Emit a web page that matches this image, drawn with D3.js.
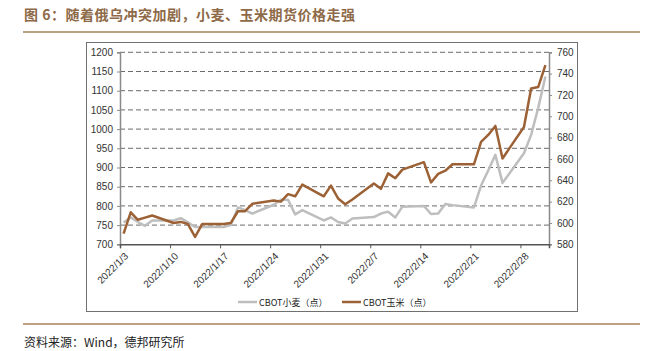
<!DOCTYPE html>
<html>
<head>
<meta charset="utf-8">
<script src="https://cdn.jsdelivr.net/npm/d3@7"></script>
<style>
  html, body { margin: 0; padding: 0; background: #fff; }
  svg text { font-family: "Liberation Sans", Arial, sans-serif; }
  .cjk { font-family: "Noto Sans CJK SC", sans-serif; }
</style>
</head>
<body>
<div id="chart"></div>
<script>
// trading days (holidays carry previous value)
const dates = [
    '2022-01-03', '2022-01-04', '2022-01-05', '2022-01-06', '2022-01-07',
    '2022-01-10', '2022-01-11', '2022-01-12', '2022-01-13', '2022-01-14',
    '2022-01-17', '2022-01-18', '2022-01-19', '2022-01-20', '2022-01-21',
    '2022-01-24', '2022-01-25', '2022-01-26', '2022-01-27', '2022-01-28',
    '2022-01-31', '2022-02-01', '2022-02-02', '2022-02-03', '2022-02-04',
    '2022-02-07', '2022-02-08', '2022-02-09', '2022-02-10', '2022-02-11',
    '2022-02-14', '2022-02-15', '2022-02-16', '2022-02-17', '2022-02-18',
    '2022-02-21', '2022-02-22', '2022-02-23', '2022-02-24', '2022-02-25',
    '2022-02-28', '2022-03-01', '2022-03-02', '2022-03-03'
];

// CBOT wheat, left axis
const wheat = [
    757, 770, 758, 748, 762,
    762, 768, 757, 745, 745,
    745, 750, 796, 789, 780,
    803, 816, 816, 778, 789,
    762, 770, 758, 754, 767,
    771, 780, 785, 770, 798,
    800, 779, 780, 805, 802,
    796, 853, 892, 933, 860,
    937, 985, 1056, 1137
];

// CBOT corn, right axis
const corn = [
    590, 610, 603, 605, 607,
    600, 601, 599, 587, 599,
    599, 600, 611, 611, 618,
    621, 620, 627, 625, 636,
    625, 635, 623, 617.5, 622,
    637, 632, 646.5, 642, 650,
    657, 638, 646, 649, 655,
    655, 676, 682.5, 691, 660.5,
    690, 726, 727.5, 748
];

const leftTicks = [700, 750, 800, 850, 900, 950, 1000, 1050, 1100, 1150, 1200];
const rightTicks = [580, 600, 620, 640, 660, 680, 700, 720, 740, 760];
const xTickDates = ['2022-01-03', '2022-01-10', '2022-01-17', '2022-01-24', '2022-01-31',
    '2022-02-07', '2022-02-14', '2022-02-21', '2022-02-28'];
const xDomain = ['2022-01-03', '2022-03-04'];

const title = '图 6：随着俄乌冲突加剧，小麦、玉米期货价格走强';
const source = '资料来源：Wind，德邦研究所';
const seriesNames = ['CBOT小麦（点）', 'CBOT玉米（点）'];

const W = 662, H = 351;
const plot = { left: 120, top: 52.3, right: 549, bottom: 244.3 };
const brown = '#9C6135';
const grey = '#BEBEBE';
const tan = '#A9825B';

const parse = d3.timeParse('%Y-%m-%d');
const svg = d3.select('#chart').append('svg')
    .attr('width', W)
    .attr('height', H);

// title + rules
svg.append('text')
    .attr('class', 'cjk')
    .attr('x', 24)
    .attr('y', 19.5)
    .style('font-size', '14px')
    .style('font-weight', 'bold')
    .style('letter-spacing', '0.5px')
    .attr('fill', '#8E6A48')
    .text(title);

svg.append('line')
    .attr('x1', 23).attr('x2', 640)
    .attr('y1', 32).attr('y2', 32)
    .attr('stroke', tan).attr('stroke-width', 1.6);

svg.append('line')
    .attr('x1', 23).attr('x2', 640)
    .attr('y1', 324).attr('y2', 324)
    .attr('stroke', tan).attr('stroke-width', 1.6);

svg.append('text')
    .attr('class', 'cjk')
    .attr('x', 24)
    .attr('y', 347)
    .style('font-size', '12px')
    .attr('fill', '#222')
    .text(source);

// chart frame
svg.append('rect')
    .attr('x', 86.5).attr('y', 42.5)
    .attr('width', 491).attr('height', 269)
    .attr('fill', 'none')
    .attr('stroke', '#707070');

const x = d3.scaleTime()
    .domain(xDomain.map(parse))
    .range([plot.left, plot.right]);

const yL = d3.scaleLinear()
    .domain([700, 1200])
    .range([plot.bottom, plot.top]);

const yR = d3.scaleLinear()
    .domain([580, 760])
    .range([plot.bottom, plot.top]);

// points sit in the middle of their day slot
const xPos = d => x(d3.timeHour.offset(parse(d), 12));

// grid
svg.append('g')
    .selectAll('line')
    .data(leftTicks.slice(1))
    .join('line')
    .attr('x1', plot.left).attr('x2', plot.right)
    .attr('y1', d => yL(d)).attr('y2', d => yL(d))
    .attr('stroke', '#6a6a6a')
    .attr('stroke-width', 1)
    .attr('stroke-dasharray', '5,3');

// left axis
const axisL = svg.append('g')
    .attr('transform', `translate(${plot.left},0)`)
    .call(d3.axisLeft(yL).tickValues(leftTicks).tickSize(3).tickPadding(4).tickFormat(d3.format('d')));
axisL.select('.domain').attr('stroke', '#8a8a8a').attr('stroke-width', 1.5);
axisL.selectAll('.tick line').attr('stroke', '#8a8a8a');
axisL.selectAll('text').style('font-size', '10px').attr('fill', '#333');

// right axis
const axisR = svg.append('g')
    .attr('transform', `translate(${plot.right},0)`)
    .call(d3.axisRight(yR).tickValues(rightTicks).tickSize(3).tickPadding(5).tickFormat(d3.format('d')));
axisR.select('.domain').attr('stroke', '#8a8a8a').attr('stroke-width', 1.5);
axisR.selectAll('.tick line').attr('stroke', '#8a8a8a');
axisR.selectAll('text').style('font-size', '10px').attr('fill', '#333');

// bottom axis
const fmt = d3.timeFormat('%Y/%-m/%-d');
const axisB = svg.append('g')
    .attr('transform', `translate(0,${plot.bottom})`)
    .call(d3.axisBottom(x).tickValues(xTickDates.map(parse)).tickSize(4).tickFormat(fmt));
axisB.select('.domain').attr('stroke', '#555').attr('stroke-width', 1.5);
axisB.selectAll('.tick line').attr('stroke', '#555');
axisB.selectAll('text')
    .style('font-size', '10px')
    .attr('fill', '#333')
    .style('text-anchor', 'end')
    .attr('y', 0)
    .attr('dy', '0.35em')
    .attr('transform', 'translate(6,10) rotate(-45)');

// series
const wheatLine = d3.line()
    .x((d, i) => xPos(dates[i]))
    .y(d => yL(d));

const cornLine = d3.line()
    .x((d, i) => xPos(dates[i]))
    .y(d => yR(d));

svg.append('path')
    .datum(wheat)
    .attr('fill', 'none')
    .attr('stroke', grey)
    .attr('stroke-width', 2.5)
    .attr('stroke-linejoin', 'round')
    .attr('d', wheatLine);

svg.append('path')
    .datum(corn)
    .attr('fill', 'none')
    .attr('stroke', brown)
    .attr('stroke-width', 2.5)
    .attr('stroke-linejoin', 'round')
    .attr('d', cornLine);

// legend
const legendItems = [
    { label: seriesNames[0], color: grey, x: 238 },
    { label: seriesNames[1], color: brown, x: 342 }
];

const legend = svg.append('g').attr('transform', 'translate(0,302)');
legendItems.forEach(item => {
    legend.append('line')
        .attr('x1', item.x).attr('x2', item.x + 19)
        .attr('y1', 0).attr('y2', 0)
        .attr('stroke', item.color)
        .attr('stroke-width', 2.5);
    legend.append('text')
        .attr('class', 'cjk')
        .attr('x', item.x + 21)
        .attr('y', 3.5)
        .style('font-size', '9px')
        .attr('fill', '#222')
        .text(item.label);
});
</script>
</body>
</html>
